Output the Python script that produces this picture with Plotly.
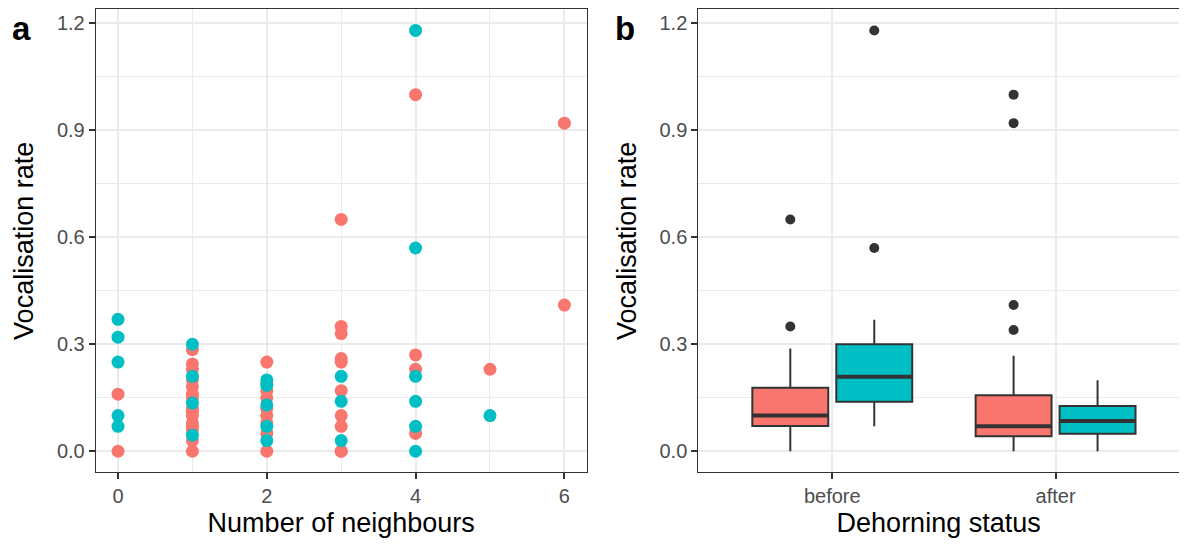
import plotly.graph_objects as go

# ---------------- Panel a data ----------------
red_neighbours = [0, 0,
                  1, 1, 1, 1, 1, 1, 1, 1, 1, 1, 1, 1, 1, 1, 1,
                  2, 2, 2, 2, 2, 2, 2, 2, 2,
                  3, 3, 3, 3, 3, 3, 3, 3, 3, 3,
                  4, 4, 4, 4,
                  5,
                  6, 6]
red_rate = [0.16, 0.0,
            0.285, 0.245, 0.23, 0.20, 0.18, 0.16, 0.15, 0.12, 0.11, 0.10, 0.08, 0.07, 0.06, 0.03, 0.0,
            0.25, 0.19, 0.17, 0.15, 0.12, 0.10, 0.08, 0.05, 0.0,
            0.65, 0.35, 0.33, 0.26, 0.25, 0.17, 0.10, 0.07, 0.0, 0.0,
            1.0, 0.27, 0.23, 0.05,
            0.23,
            0.92, 0.41]
cyan_neighbours = [0, 0, 0, 0, 0,
                   1, 1, 1, 1,
                   2, 2, 2, 2, 2,
                   3, 3, 3,
                   4, 4, 4, 4, 4, 4,
                   5]
cyan_rate = [0.37, 0.32, 0.25, 0.10, 0.07,
             0.30, 0.21, 0.135, 0.045,
             0.20, 0.185, 0.13, 0.07, 0.03,
             0.21, 0.14, 0.03,
             1.18, 0.57, 0.21, 0.14, 0.07, 0.0,
             0.10]

# ---------------- Panel b data ----------------
status = ["before", "after"]
red_q1 = [0.071, 0.042]
red_median = [0.10, 0.07]
red_q3 = [0.178, 0.157]
red_lower = [0.0, 0.0]
red_upper = [0.288, 0.268]
red_out_status = ["before", "before", "after", "after", "after", "after"]
red_out_rate = [0.35, 0.65, 0.34, 0.41, 0.92, 1.0]

cyan_q1 = [0.139, 0.049]
cyan_median = [0.209, 0.085]
cyan_q3 = [0.30, 0.127]
cyan_lower = [0.07, 0.0]
cyan_upper = [0.369, 0.199]
cyan_out_status = ["before", "before"]
cyan_out_rate = [0.57, 1.18]

y_ticks = [0.0, 0.3, 0.6, 0.9, 1.2]
y_tick_text = ["0.0", "0.3", "0.6", "0.9", "1.2"]
x_ticks_a = [0, 2, 4, 6]

# ---------------- styling ----------------
RED = "#F8766D"
CYAN = "#00BFC4"
DARK = "#333333"
GRID = "#EBEBEB"
FONT = "Liberation Sans, Arial, sans-serif"
PAGE_MARGIN = 8            # default body margin of the html page
W, H = 1187 - 2 * PAGE_MARGIN, 546 - 2 * PAGE_MARGIN


def px_x(p):
    return (p - PAGE_MARGIN) / W


def px_y(p):
    return 1 - (p - PAGE_MARGIN) / H


pos = {s: i + 1 for i, s in enumerate(status)}
OFF = 0.188
BW = 0.34
UNIT_B = 223.3              # pixels per category in panel b

fig = go.Figure()

fig.add_trace(go.Scatter(x=red_neighbours, y=red_rate, mode="markers",
                         marker=dict(color=RED, size=13, line=dict(width=0)),
                         xaxis="x", yaxis="y", showlegend=False))
fig.add_trace(go.Scatter(x=cyan_neighbours, y=cyan_rate, mode="markers",
                         marker=dict(color=CYAN, size=13, line=dict(width=0)),
                         xaxis="x", yaxis="y", showlegend=False))

for q1, med, q3, lo, hi, col, sgn in [
        (red_q1, red_median, red_q3, red_lower, red_upper, RED, -1),
        (cyan_q1, cyan_median, cyan_q3, cyan_lower, cyan_upper, CYAN, 1)]:
    xs = [pos[s] + sgn * OFF for s in status]
    fig.add_trace(go.Box(x=xs, q1=q1, median=med, q3=q3, lowerfence=lo, upperfence=hi,
                         width=BW, fillcolor=col, line=dict(color=DARK, width=2),
                         whiskerwidth=0, boxpoints=False, xaxis="x2", yaxis="y2",
                         showlegend=False, hoverinfo="skip"))
    for x, m in zip(xs, med):
        fig.add_shape(type="line", xref="x2", yref="y2", x0=x - BW / 2, x1=x + BW / 2,
                      y0=m, y1=m, line=dict(color=DARK, width=4))

fig.add_trace(go.Scatter(x=[pos[s] - OFF for s in red_out_status], y=red_out_rate,
                         mode="markers", marker=dict(color=DARK, size=10),
                         xaxis="x2", yaxis="y2", showlegend=False))
fig.add_trace(go.Scatter(x=[pos[s] + OFF for s in cyan_out_status], y=cyan_out_rate,
                         mode="markers", marker=dict(color=DARK, size=10),
                         xaxis="x2", yaxis="y2", showlegend=False))

y_dom = [px_y(472.3), px_y(9.4)]
TITLE_FONT = dict(family=FONT, size=27, color="black")
common_axis = dict(showline=True, linecolor=DARK, linewidth=1, mirror=True,
                   ticks="outside", ticklen=6, tickcolor=DARK, tickwidth=1.5,
                   tickfont=dict(family=FONT, size=20, color="#4D4D4D"),
                   showgrid=True, gridcolor=GRID, gridwidth=2, zeroline=False)

yaxis_common = dict(common_axis, range=[-0.059, 1.239], tickvals=y_ticks, ticktext=y_tick_text,
                    minor=dict(dtick=0.15, tick0=0, showgrid=True, gridcolor=GRID, gridwidth=1, ticks=""),
                    title=dict(text="Vocalisation rate", font=TITLE_FONT, standoff=15))

b_left = 698.3
b_right = 1187 - PAGE_MARGIN

fig.update_layout(
    width=W, height=H, margin=dict(l=0, r=0, t=0, b=0),
    paper_bgcolor="white", plot_bgcolor="white",
    xaxis=dict(common_axis, domain=[px_x(95.7), px_x(586.7)], range=[-0.3, 6.3], tickvals=x_ticks_a,
               minor=dict(dtick=1, tick0=0, showgrid=True, gridcolor=GRID, gridwidth=1, ticks=""),
               title=dict(text="Number of neighbours", font=TITLE_FONT, standoff=9),
               anchor="y"),
    yaxis=dict(yaxis_common, domain=y_dom, anchor="x"),
    xaxis2=dict(common_axis, domain=[px_x(b_left), 1.0],
                range=[0.4, 0.4 + (b_right - b_left) / UNIT_B],
                tickvals=[pos[s] for s in status], ticktext=status,
                title=dict(text="Dehorning status", font=TITLE_FONT, standoff=9),
                anchor="y2"),
    yaxis2=dict(yaxis_common, domain=y_dom, anchor="x2"),
    annotations=[
        dict(text="<b>a</b>", x=px_x(21), y=px_y(8), xref="paper", yref="paper",
             xanchor="center", yanchor="top",
             showarrow=False, font=dict(family=FONT, size=33, color="black")),
        dict(text="<b>b</b>", x=px_x(625), y=px_y(8), xref="paper", yref="paper",
             xanchor="center", yanchor="top",
             showarrow=False, font=dict(family=FONT, size=33, color="black")),
    ],
)

fig.write_html("out.html")
